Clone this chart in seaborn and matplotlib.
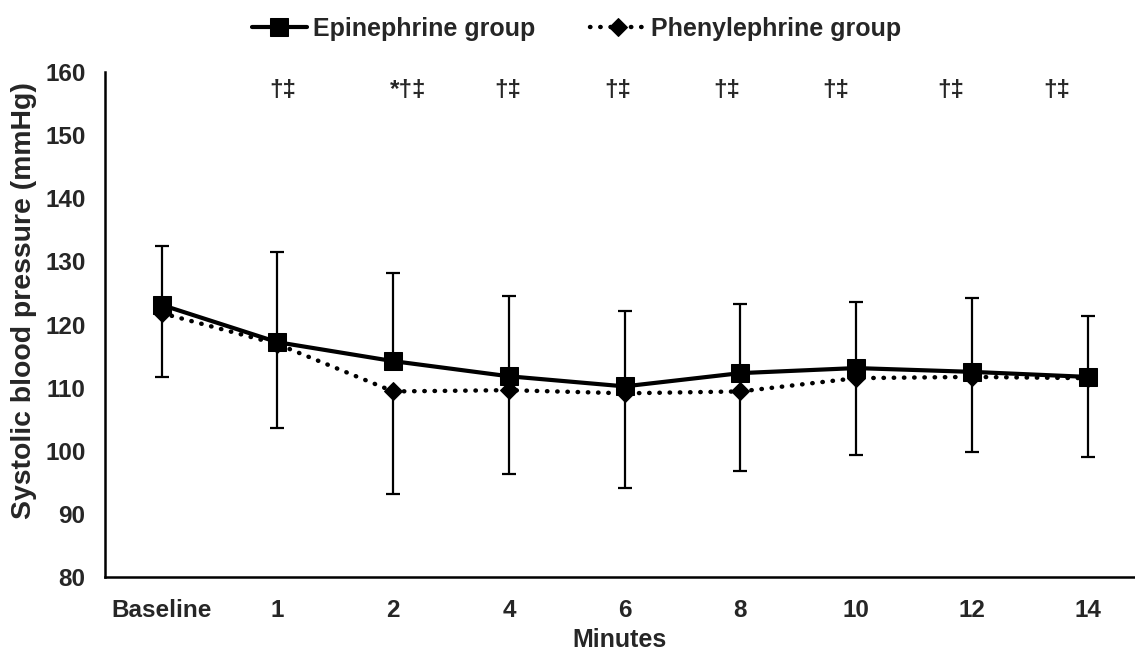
import pandas as pd
import numpy as np
import matplotlib
matplotlib.use("Agg")
import matplotlib.pyplot as plt
import seaborn as sns

# region Datos
minutos = ["Baseline", "1", "2", "4", "6", "8", "10", "12", "14"]
epinefrina = [123.1, 117.2, 114.2, 111.8, 110.2, 112.3, 113.1, 112.5, 111.7]
fenilefrina = [121.8, 116.9, 109.4, 109.6, 109.1, 109.4, 111.5, 111.7, 111.5]
# extremos de las barras de error
epi_superior = [132.4, 131.5, 128.1, 124.5, 122.1, 123.2, 123.5, 124.2, 121.3]
fen_inferior = [111.7, 103.6, 93.1, 96.3, 94.1, 96.8, 99.3, 99.8, 99.0]
simbolos = ["†‡", "*†‡", "†‡", "†‡", "†‡", "†‡", "†‡", "†‡"]
# endregion

# region Posiciones de los simbolos (colocados a mano en el original)
simbolos_x = [1.05, 2.13, 2.99, 3.94, 4.88, 5.82, 6.82, 7.73]
# endregion

# region DataFrame largo
df = pd.DataFrame({
    "pos": list(range(len(minutos))) * 2,
    "sbp": epinefrina + fenilefrina,
    "grupo": ["Epinephrine group"] * len(minutos) + ["Phenylephrine group"] * len(minutos),
})
# endregion

# region Figura
sns.set_style("white")
plt.rcParams["font.family"] = ["Liberation Sans", "DejaVu Sans"]
plt.rcParams["font.weight"] = "bold"

fig = plt.figure(figsize=(11.35, 6.5), dpi=100)
ax = fig.add_axes([0.0925, 0.1123, 0.9075, 0.7769])

x = np.arange(len(minutos))
epi = np.array(epinefrina)
fen = np.array(fenilefrina)

# barras de error: +DE epinefrina, -DE fenilefrina
ax.errorbar(x, epi, yerr=[np.zeros_like(epi), np.array(epi_superior) - epi],
            fmt="none", ecolor="black", elinewidth=1.6, capsize=5, capthick=1.6, zorder=2)
ax.errorbar(x, fen, yerr=[fen - np.array(fen_inferior), np.zeros_like(fen)],
            fmt="none", ecolor="black", elinewidth=1.6, capsize=5, capthick=1.6, zorder=2)

sns.lineplot(data=df[df["grupo"] == "Phenylephrine group"], x="pos", y="sbp", ax=ax,
             color="black", linestyle=(0, (0.1, 2.2)), linewidth=3.2, marker="D",
             markersize=9, markeredgecolor="black", dash_capstyle="round",
             label="Phenylephrine group", zorder=3)
sns.lineplot(data=df[df["grupo"] == "Epinephrine group"], x="pos", y="sbp", ax=ax,
             color="black", linestyle="-", linewidth=3, marker="s",
             markersize=13, markeredgecolor="black",
             label="Epinephrine group", zorder=4)

for xi, s in zip(simbolos_x, simbolos):
    ax.text(xi, 157, s, ha="center", va="center", fontsize=17.5, fontweight="bold")

ax.set_xlim(-0.49, 8.41)
ax.set_ylim(80, 160)
ax.set_yticks(range(80, 161, 10))
ax.set_xticks(x)
ax.set_xticklabels(minutos)
ax.tick_params(axis="x", length=0, labelsize=17.5, pad=16)
ax.tick_params(axis="y", length=0, labelsize=17.5, pad=14)
for lab in ax.get_xticklabels() + ax.get_yticklabels():
    lab.set_fontweight("bold")
ax.set_xlabel("Minutes", fontsize=18, fontweight="bold", labelpad=4)
ax.set_ylabel("Systolic blood pressure (mmHg)", fontsize=20.4, fontweight="bold")
ax.yaxis.set_label_coords(-0.066, 0.548)

for lado in ["top", "right"]:
    ax.spines[lado].set_visible(False)
for lado in ["left", "bottom"]:
    ax.spines[lado].set_color("black")
    ax.spines[lado].set_linewidth(1.8)

h, l = ax.get_legend_handles_labels()
ax.legend(h[::-1], l[::-1], loc="center", bbox_to_anchor=(0.508, 0.956),
          bbox_transform=fig.transFigure, ncol=2, frameon=False,
          prop={"size": 18, "weight": "bold"}, handlelength=2.2, columnspacing=2.2,
          handletextpad=0.25)

fig.savefig("out.png", dpi=100)
# endregion
